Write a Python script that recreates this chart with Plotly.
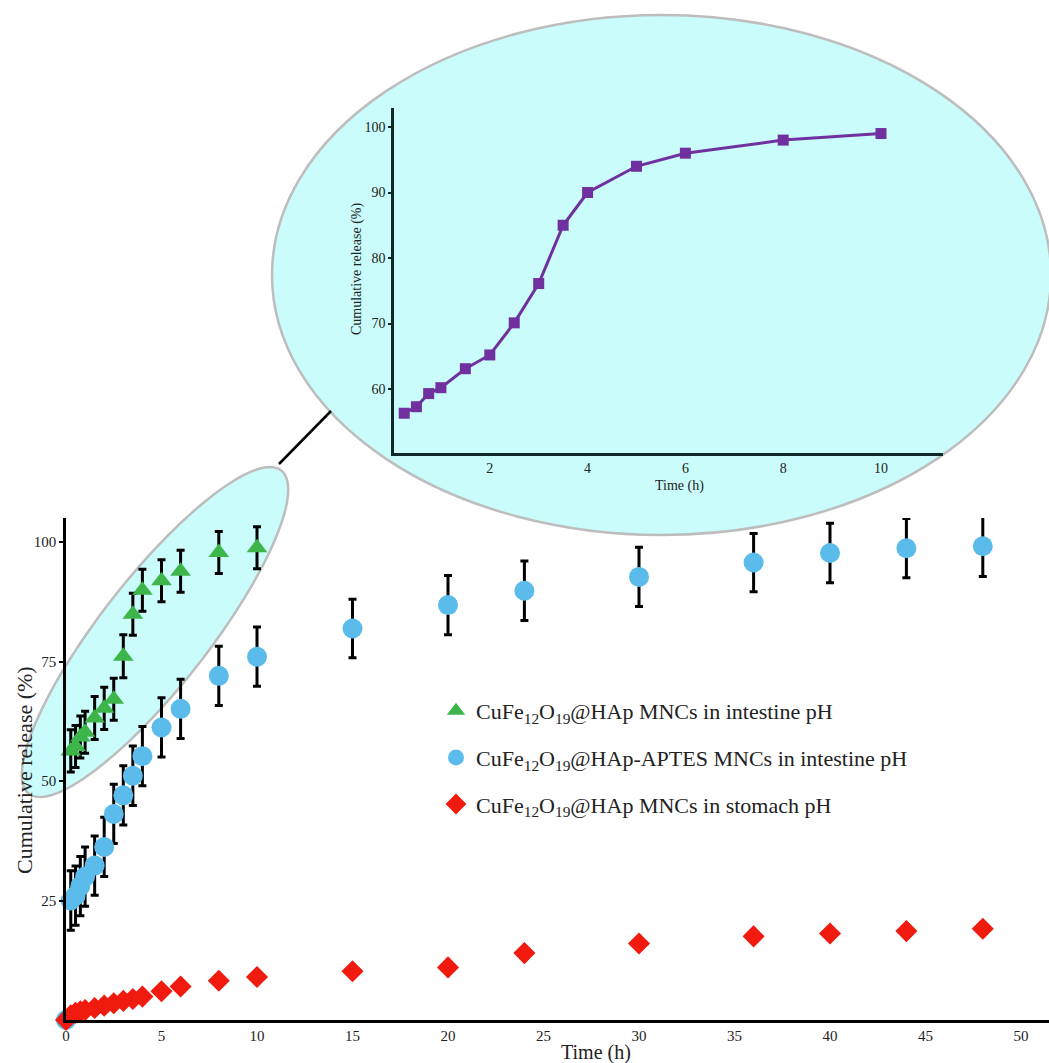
import numpy as np
import plotly.graph_objects as go

W, H = 1049, 1063
FONT = "Liberation Serif"

# ---- Release data (main plot) ----
t_hap_int = [0.25, 0.5, 0.75, 1, 1.5, 2, 2.5, 3, 3.5, 4, 5, 6, 8, 10]
rel_hap_int = [56.3, 57.2, 59.2, 60.2, 63.2, 65.2, 67.1, 76.1, 84.9, 89.9, 91.9, 93.9, 97.8, 98.8]
err_hap_int = [4.4, 4.4, 4.4, 4.4, 4.5, 4.4, 4.4, 4.5, 4.4, 4.4, 4.4, 4.4, 4.4, 4.4]

t_aptes_int = [0, 0.25, 0.5, 0.75, 1, 1.5, 2, 2.5, 3, 3.5, 4, 5, 6, 8, 10,
               15, 20, 24, 30, 36, 40, 44, 48]
rel_aptes_int = [0, 25.0, 26.0, 28.0, 30.0, 32.3, 36.2, 43.1, 47.0, 51.1, 55.2, 61.2, 65.1, 72.0, 76.0,
                 81.9, 86.8, 89.8, 92.7, 95.7, 97.7, 98.7, 99.1]
err_aptes_int = [0, 6.2, 6.2, 6.2, 6.2, 6.2, 6.2, 6.2, 6.2, 6.2, 6.2, 6.2, 6.2, 6.2, 6.2,
                 6.1, 6.2, 6.2, 6.2, 6.1, 6.2, 6.2, 6.3]

t_hap_sto = [0, 0.25, 0.5, 0.75, 1, 1.5, 2, 2.5, 3, 3.5, 4, 5, 6, 8, 10,
             15, 20, 24, 30, 36, 40, 44, 48]
rel_hap_sto = [0, 1.0, 1.5, 1.8, 2.1, 2.5, 3.0, 3.5, 4.0, 4.4, 4.9, 6.0, 7.0, 8.2, 9.0,
               10.2, 11.0, 14.0, 16.0, 17.5, 18.1, 18.6, 19.1]

# ---- Inset: CuFe12O19@HAp in intestine pH, first 10 h ----
t_inset = [0.25, 0.5, 0.75, 1, 1.5, 2, 2.5, 3, 3.5, 4, 5, 6, 8, 10]
rel_inset = [56.3, 57.3, 59.3, 60.2, 63.1, 65.2, 70.1, 76.1, 85.0, 90.0, 94.0, 96.0, 98.0, 99.0]

main_xticks = [0, 5, 10, 15, 20, 25, 30, 35, 40, 45, 50]
main_yticks = [25, 50, 75, 100]
inset_xticks = [2, 4, 6, 8, 10]
inset_yticks = [60, 70, 80, 90, 100]

GREEN = "#3DB54A"
BLUE = "#5BBCEB"
RED = "#F01A0E"
PURPLE = "#7030A0"
CYAN = "#C9FCFA"
RIM = "#BDBDBD"


def px(x):
    return x / W


def py(y):
    return 1 - y / H


label = "CuFe<sub>12</sub>O<sub>19</sub>@HAp"

fig = go.Figure()

err_style = dict(type="data", color="black", thickness=3, width=4)

fig.add_trace(go.Scatter(
    x=t_hap_int, y=rel_hap_int, mode="markers",
    name=label + " MNCs in intestine pH", legendgroup="a",
    marker=dict(symbol="triangle-up", size=18, color=GREEN),
    error_y=dict(array=err_hap_int, **err_style),
    cliponaxis=False,
))
fig.add_trace(go.Scatter(
    x=t_aptes_int, y=rel_aptes_int, mode="markers",
    name=label + "-APTES MNCs in intestine pH", legendgroup="b",
    marker=dict(symbol="circle", size=20, color=BLUE),
    error_y=dict(array=err_aptes_int, **err_style),
    cliponaxis=False,
))
fig.add_trace(go.Scatter(
    x=t_hap_sto, y=rel_hap_sto, mode="markers",
    name=label + " MNCs in stomach pH", legendgroup="c",
    marker=dict(symbol="diamond", size=17, color=RED),
    cliponaxis=False,
))
fig.add_trace(go.Scatter(
    x=t_inset, y=rel_inset, mode="lines+markers",
    xaxis="x2", yaxis="y2", showlegend=False,
    line=dict(color=PURPLE, width=3),
    marker=dict(symbol="square", size=11, color=PURPLE),
    cliponaxis=False,
))

# Tilted ellipse around the early intestine-pH data
cx, cy, a, b, ang = 155, 632, 205, 54, np.deg2rad(52)
phi = np.linspace(0, 2 * np.pi, 121)
ex = cx + a * np.cos(phi) * np.cos(ang) + b * np.sin(phi) * np.sin(ang)
ey = cy - a * np.cos(phi) * np.sin(ang) + b * np.sin(phi) * np.cos(ang)
path = "M " + " L ".join(f"{px(x):.5f},{py(y):.5f}" for x, y in zip(ex, ey)) + " Z"

shapes = [
    dict(type="circle", xref="paper", yref="paper",
         x0=px(272), x1=px(1051), y0=py(535), y1=py(15),
         fillcolor=CYAN, line=dict(color=RIM, width=2.5), layer="below"),
    dict(type="path", xref="paper", yref="paper", path=path,
         fillcolor=CYAN, line=dict(color=RIM, width=2.5), layer="below"),
    dict(type="line", xref="paper", yref="paper",
         x0=px(279), y0=py(464), x1=px(331), y1=py(411),
         line=dict(color="black", width=2.5), layer="below"),
]


def title_note(text, x, y, size, angle=0):
    return dict(text=text, xref="paper", yref="paper", x=px(x), y=py(y),
                xanchor="center", yanchor="middle", textangle=angle,
                showarrow=False, font=dict(family=FONT, size=size, color="#222"))


annotations = [
    title_note("Cumulative release (%)", 24, 770, 22, -90),
    title_note("Time (h)", 596, 1052, 20),
    title_note("Cumulative release (%)", 357, 269, 14, -90),
    title_note("Time (h)", 679, 486, 14),
]

fig.update_layout(
    width=W, height=H,
    margin=dict(l=0, r=0, t=0, b=0),
    paper_bgcolor="white", plot_bgcolor="rgba(0,0,0,0)",
    font=dict(family=FONT, color="#222"),
    shapes=shapes, annotations=annotations,
    xaxis=dict(domain=[px(66), 1], range=[0, (W - 66) / 19.1],
               tickvals=main_xticks, ticks="", showline=True,
               linecolor="black", linewidth=2.5, showgrid=False,
               zeroline=False, tickfont=dict(size=15), automargin=False),
    yaxis=dict(domain=[py(1020), py(518)], range=[0, (1020 - 518) / 4.78],
               tickvals=main_yticks, ticks="outside", ticklen=4,
               tickwidth=1.5, tickcolor="black", showline=True,
               linecolor="black", linewidth=2.5, showgrid=False,
               zeroline=False, tickfont=dict(size=15), automargin=False),
    xaxis2=dict(domain=[px(394), px(943)], anchor="y2",
                range=[(394 - 392) / 48.9, (943 - 392) / 48.9],
                tickvals=inset_xticks, ticks="", showline=True,
                linecolor="#102828", linewidth=2.5, showgrid=False,
                zeroline=False, tickfont=dict(size=14), automargin=False),
    yaxis2=dict(domain=[py(453), py(108)], anchor="x2",
                range=[60 - (453 - 389) / 6.55, 100 + (127 - 108) / 6.55],
                tickvals=inset_yticks, ticks="outside", ticklen=3,
                tickwidth=1.5, tickcolor="#102828", showline=True,
                linecolor="#102828", linewidth=2.5, showgrid=False,
                zeroline=False, tickfont=dict(size=14), automargin=False),
    legend=dict(x=px(436), y=py(690), xanchor="left", yanchor="top",
                bgcolor="rgba(0,0,0,0)", font=dict(family=FONT, size=22, color="#222"),
                tracegroupgap=15, itemsizing="trace"),
    showlegend=True,
)

fig.write_html("out.html")
